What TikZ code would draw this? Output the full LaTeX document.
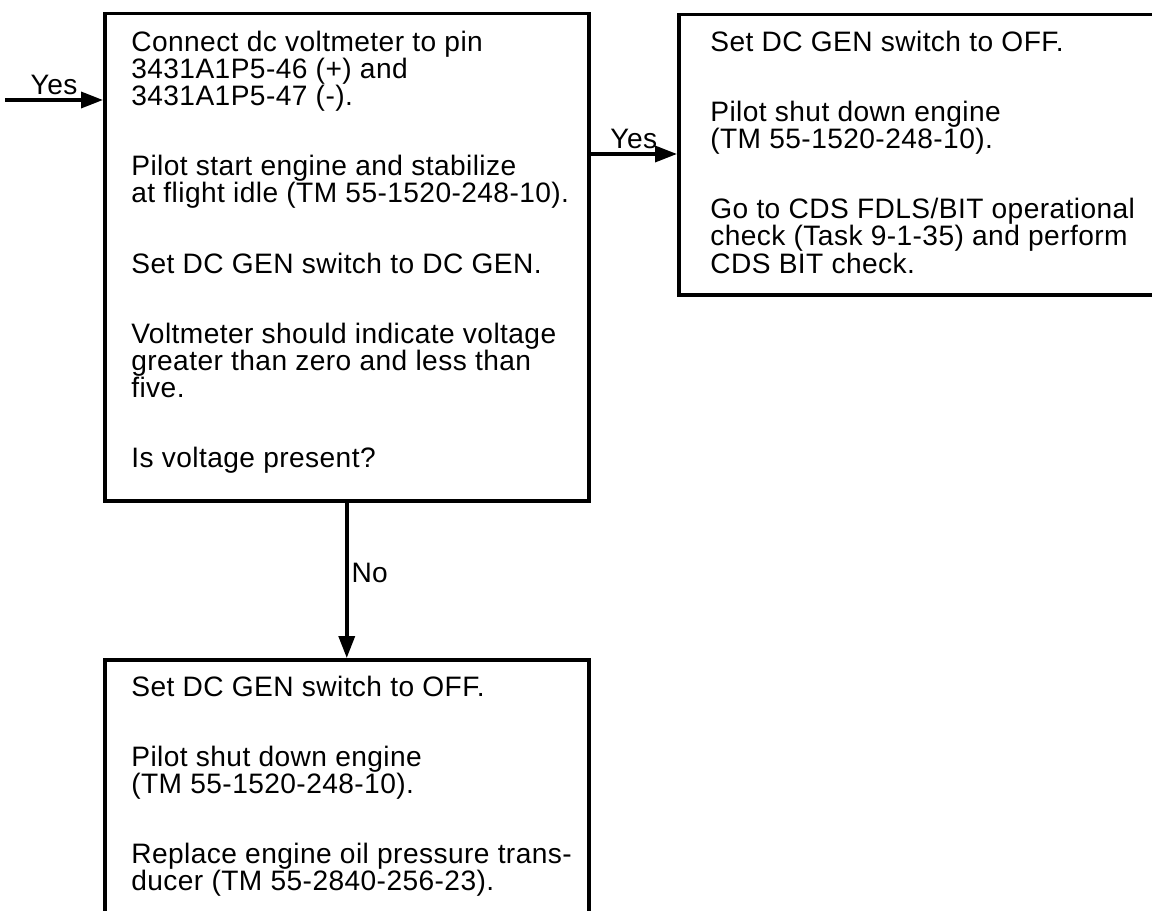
\documentclass[tikz,border=0pt]{standalone}
\usepackage{fontspec}
\setmainfont{Liberation Sans}[LetterSpace=1.5]
\usetikzlibrary{arrows.meta}
\newcommand{\pgap}{\\[8.6mm]}

\begin{document}
\begin{tikzpicture}[x=0.2mm, y=-0.2mm, >={Triangle[length=4.4mm,width=3.2mm]},
  box/.style={draw, line width=0.7mm, inner sep=0pt, anchor=north west},
  txt/.style={anchor=north west, align=left, inner sep=0pt,
    font=\fontsize{16}{15.4}\selectfont},
  lbl/.style={font=\fontsize{16}{16}\selectfont, inner sep=0.6mm},
  flow/.style={->, line width=0.7mm}]
\useasboundingbox (0,0) rectangle (1152,911);
\clip (0,0) rectangle (1152,911);
\node[box, minimum width=96.8mm, minimum height=97.4mm] (check) at (103,12) {};
\node[box, minimum width=110mm, minimum height=56mm] (offA) at (677,13) {};
\node[box, minimum width=96.8mm, minimum height=60mm] (offB) at (103,658) {};
\node[txt] (checktxt) at (131,31) {Connect dc voltmeter to pin\\
  3431A1P5-46 (+) and\\ 3431A1P5-47 (-).\pgap
  Pilot start engine and stabilize\\ at flight idle (TM 55-1520-248-10).\pgap
  Set DC GEN switch to DC GEN.\pgap
  Voltmeter should indicate voltage\\ greater than zero and less than\\ five.\pgap
  Is voltage present?};
\node[txt] (offAtxt) at (710,31) {Set DC GEN switch to OFF.\pgap
  Pilot shut down engine\\ (TM 55-1520-248-10).\pgap
  Go to CDS FDLS/BIT operational\\ check (Task 9-1-35) and perform\\ CDS BIT check.};
\node[txt] (offBtxt) at (131,676) {Set DC GEN switch to OFF.\pgap
  Pilot shut down engine\\ (TM 55-1520-248-10).\pgap
  Replace engine oil pressure trans-\\ ducer (TM 55-2840-256-23).};
\coordinate (entry) at (5,100);
\coordinate (yesrow) at (0,154);
\draw[flow] (entry) -- (entry -| check.west) node[lbl, midway, above] {Yes};
\draw[flow] (check.east |- yesrow) -- (offA.west |- yesrow) node[lbl, midway, above] {Yes};
\draw[flow] (check.south) -- (offB.north) node[lbl, pos=0.45, right] {No};
\end{tikzpicture}
\end{document}
